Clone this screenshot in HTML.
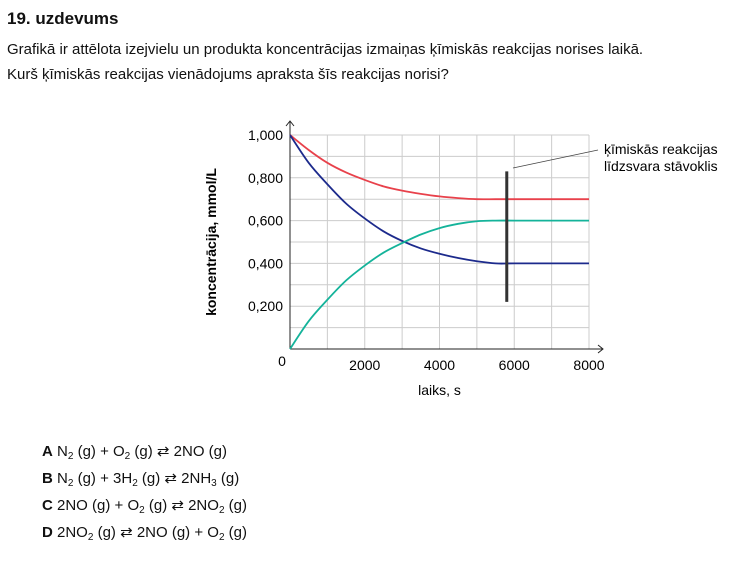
<!DOCTYPE html>
<html><head><meta charset="utf-8"><style>
body{margin:0;width:745px;height:569px;background:#fff;font-family:"Liberation Sans",sans-serif;color:#111;position:relative;overflow:hidden}
.t{position:absolute;white-space:nowrap}
sub{font-size:10px;vertical-align:-3px}
</style></head><body>
<div class="t" style="left:7px;top:9px;font-size:17px;font-weight:bold">19. uzdevums</div>
<div class="t" style="left:7px;top:41px;font-size:15px">Grafikā ir attēlota izejvielu un produkta koncentrācijas izmaiņas ķīmiskās reakcijas norises laikā.</div>
<div class="t" style="left:7px;top:66px;font-size:15px">Kurš ķīmiskās reakcijas vienādojums apraksta šīs reakcijas norisi?</div>
<svg id="chart" width="745" height="569" style="position:absolute;left:0;top:0" font-family="Liberation Sans, sans-serif"></svg>
<div class="t" style="left:42px;top:442px;font-size:15px"><b>A</b> N<sub>2</sub> (g) + O<sub>2</sub> (g) ⇄ 2NO (g)</div>
<div class="t" style="left:42px;top:469px;font-size:15px"><b>B</b> N<sub>2</sub> (g) + 3H<sub>2</sub> (g) ⇄ 2NH<sub>3</sub> (g)</div>
<div class="t" style="left:42px;top:496px;font-size:15px"><b>C</b> 2NO (g) + O<sub>2</sub> (g) ⇄ 2NO<sub>2</sub> (g)</div>
<div class="t" style="left:42px;top:523px;font-size:15px"><b>D</b> 2NO<sub>2</sub> (g) ⇄ 2NO (g) + O<sub>2</sub> (g)</div>
<script>
const times=[0,500,1000,1500,2000,2500,3000,3500,4000,4500,5000,5500,6000,7000,8000];
const red=[1,0.93,0.87,0.825,0.79,0.76,0.74,0.725,0.713,0.705,0.70,0.70,0.70,0.70,0.70];
const blue=[1,0.87,0.77,0.68,0.61,0.55,0.505,0.47,0.445,0.425,0.41,0.40,0.40,0.40,0.40];
const teal=[0,0.13,0.23,0.32,0.39,0.45,0.495,0.535,0.565,0.585,0.597,0.60,0.60,0.60,0.60];
const xTicks=[2000,4000,6000,8000];
const yTicks=[0.2,0.4,0.6,0.8,1.0];
const yLabels=["0,200","0,400","0,600","0,800","1,000"];
const eqTime=5800, eqLow=0.22, eqHigh=0.83;
const X=v=>290+v/8000*299, Y=v=>349-v*214;
const svg=document.getElementById('chart');const NS='http://www.w3.org/2000/svg';
function mk(t,a,txt){const e=document.createElementNS(NS,t);for(const k in a)e.setAttribute(k,a[k]);if(txt!=null)e.textContent=txt;svg.appendChild(e);return e;}
for(let i=1;i<=8;i++){const g=mk('line',{x1:X(i*1000),x2:X(i*1000),y1:Y(0),y2:Y(1),stroke:'#ccc','stroke-width':1});

}
for(let i=1;i<=10;i++){const g=mk('line',{x1:X(0),x2:X(8000),y1:Y(i/10),y2:Y(i/10),stroke:'#ccc','stroke-width':1});

}
const ax=mk('path',{d:`M${X(0)},${Y(0)}H${X(8000)+14}M${X(8000)+9},${Y(0)-4}L${X(8000)+14},${Y(0)}L${X(8000)+9},${Y(0)+4}M${X(0)},${Y(0)}V${Y(1)-14}M${X(0)-4},${Y(1)-9}L${X(0)},${Y(1)-14}L${X(0)+4},${Y(1)-9}`,stroke:'#222',fill:'none','stroke-width':1});


xTicks.forEach(v=>{const t=mk('text',{x:X(v),y:370,'text-anchor':'middle','font-size':14},String(v));

});
const z=mk('text',{x:282,y:366,'text-anchor':'middle','font-size':14},'0');


yTicks.forEach((v,i)=>{const t=mk('text',{x:283,y:Y(v)+5,'text-anchor':'end','font-size':14},yLabels[i]);

});
const xt=mk('text',{x:X(4000),y:395,'text-anchor':'middle','font-size':14},'laiks, s');


const yt=mk('text',{x:0,y:0,'text-anchor':'middle','font-size':14,'font-weight':'bold',transform:`translate(216,${Y(0.5)}) rotate(-90)`},'koncentrācija, mmol/L');


function series(vals,col,name){
  const P=vals.map((v,i)=>[X(times[i]),Y(v)]);
  let d='M'+P[0][0]+','+P[0][1];
  for(let i=0;i<P.length-1;i++){
    const p0=P[Math.max(0,i-1)],p1=P[i],p2=P[i+1],p3=P[Math.min(P.length-1,i+2)];
    const c1=[p1[0]+(p2[0]-p0[0])/6,p1[1]+(p2[1]-p0[1])/6];
    const c2=[p2[0]-(p3[0]-p1[0])/6,p2[1]-(p3[1]-p1[1])/6];
    d+=`C${c1[0]},${c1[1]} ${c2[0]},${c2[1]} ${p2[0]},${p2[1]}`;
  }
  const p=mk('path',{d,stroke:col,fill:'none','stroke-width':1.8,'stroke-linejoin':'round'});
  
  }
series(red,'#e8414b','series-red');series(blue,'#1c2a8c','series-blue');series(teal,'#14b39a','series-teal');
const eq=mk('line',{x1:X(eqTime),x2:X(eqTime),y1:Y(eqHigh),y2:Y(eqLow),stroke:'#333','stroke-width':3});


const ln=mk('line',{x1:513,y1:168,x2:598,y2:150,stroke:'#444','stroke-width':0.8});


const a1=mk('text',{x:604,y:154,'font-size':14},'ķīmiskās reakcijas');


const a2=mk('text',{x:604,y:171,'font-size':14},'līdzsvara stāvoklis');


</script>
</body></html>
